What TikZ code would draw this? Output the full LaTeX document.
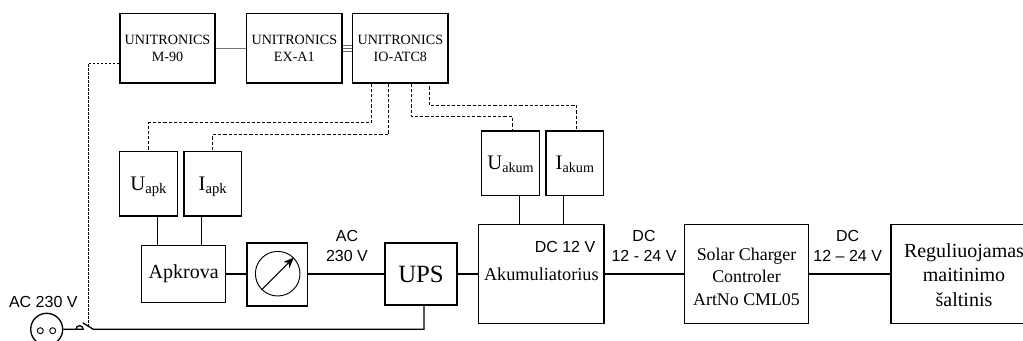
\documentclass[tikz,border=0pt]{standalone}
\usepackage{fontspec}
\setmainfont{Liberation Serif}
\setsansfont{Liberation Sans}
\usepackage{xcolor}
\usepackage{pgf,tikz}
\usetikzlibrary{arrows.meta}
\newcommand{\fsz}[2]{\fontsize{#1}{#2}\selectfont}
\newcommand{\subtxt}[4]{\rule{0pt}{#4pt}\fsz{15.5}{15.5}#1\raisebox{-2.2pt}{\fsz{#3}{#3}#2}}
\tikzset{
  blk/.style={draw, line width=1pt, inner sep=0pt, align=center},
  lbl/.style={inner sep=0pt, align=center, font=\sffamily\fsz{12}{15}},
  link/.style={line width=1pt},
  sig/.style={line width=0.7pt, dash pattern=on 2.4pt off 1.5pt},
  bus/.style={line width=0.5pt, black!60}
}
\begin{document}
\begin{tikzpicture}[x=0.75pt, y=-0.75pt]
	\def\u{0.75pt}
	\clip (0,0) rectangle (1023,341);
	\useasboundingbox (0,0) rectangle (1023,341);

	% valdikliai
	\node[blk, minimum width=95*\u, minimum height=69.3*\u, font=\fsz{10.6}{12.2}] (m90) at (167.5,48.35) {UNITRONICS\\M-90};
	\node[blk, minimum width=95.3*\u, minimum height=69.3*\u, font=\fsz{10.6}{12.2}] (exa) at (294.35,48.35) {UNITRONICS\\EX-A1};
	\node[blk, minimum width=95.3*\u, minimum height=69.3*\u, font=\fsz{10.6}{12.2}] (io) at (400.35,48.35) {UNITRONICS\\IO-ATC8};

	% jutikliai
	\node[blk, minimum width=57.6*\u, minimum height=64.7*\u] (uapk) at (148.5,183.65) {\subtxt{U}{apk}{11}{15}};
	\node[blk, minimum width=57.3*\u, minimum height=64.7*\u] (iapk) at (212.65,183.65) {\subtxt{I}{apk}{11}{15}};
	\node[blk, minimum width=57.6*\u, minimum height=64.7*\u] (uakum) at (510.5,163.35) {\subtxt{U}{akum}{10.6}{12}};
	\node[blk, minimum width=57.7*\u, minimum height=64.7*\u] (iakum) at (574.85,163.35) {\subtxt{I}{akum}{10.6}{12}};

	% galios grandine
	\node[blk, minimum width=84*\u, minimum height=57.4*\u, font=\fsz{15}{18}] (apkrova) at (183.7,274) {Apkrova};
	\node[blk, minimum width=60.7*\u, minimum height=63*\u] (meter) at (277.35,274.5) {};
	\node[circle, draw, line width=0.7pt, inner sep=0pt, minimum size=44.6*\u] (gauge) at (277.7,273.7) {};
	\node[blk, minimum width=72*\u, minimum height=62*\u, font=\fsz{18.6}{18}] (ups) at (421,274) {UPS};
	\node[blk, minimum width=125.3*\u, minimum height=99*\u, font=\fsz{13.7}{18}] (akum) at (541.35,273.8) {Akumuliatorius};
	\node[blk, minimum width=123.6*\u, minimum height=99.4*\u, font=\fsz{13.4}{17}] (solar) at (746.5,274) {\rule{0pt}{13.4pt}Solar Charger\\Controler\\ArtNo CML05};
	\node[blk, minimum width=146*\u, minimum height=99.4*\u, font=\fsz{15}{18.2}] (reg) at (964,274) {\rule{0pt}{11.8pt}Reguliuojamas\\maitinimo\\šaltinis};

	% lizdas
	\node[circle, draw, line width=1pt, inner sep=0pt, minimum size=32*\u] (socket) at (46.7,329.3) {};
	\node[circle, draw, line width=0.7pt, inner sep=0pt, minimum size=6*\u] (pinL) at (40.3,330.7) {};
	\node[circle, draw, line width=0.7pt, inner sep=0pt, minimum size=6*\u] (pinR) at (52.7,330.7) {};

	% uzrasai
	\node[lbl] (acIn) at (43.3,302.3) {AC 230 V};
	\node[lbl] (acUps) at (347,245.7) {AC\\230 V};
	\node[lbl] (dcAkum) at (565,247) {DC 12 V};
	\node[lbl] (dcOne) at (644,245.7) {DC\\12 - 24 V};
	\node[lbl] (dcTwo) at (847.7,245.5) {DC\\12 – 24 V};

	% rodykle
	\draw[line width=0.7pt, -{Stealth[length=8pt,width=6.5pt]}] (gauge.-135) -- (gauge.45);

	% magistrales
	\draw[line width=1pt, black!55] (m90) -- (exa);
	\draw[bus] ([yshift=2.5pt]exa.east) -- ([yshift=2.5pt]io.west);
	\draw[bus] (exa.east) -- (io.west);
	\draw[bus] ([yshift=-2.5pt]exa.east) -- ([yshift=-2.5pt]io.west);

	% signalai
	\draw[sig] ([xshift=-21.5pt]io.south) -- ++(0,39.3) -| (uapk.north);
	\draw[sig] ([xshift=-8.7pt]io.south) -- ++(0,51) -| (iapk.north);
	\draw[sig] ([xshift=8.7pt]io.south) -- ++(0,33.3) -| ([xshift=1.6pt]uakum.north);
	\draw[sig] ([xshift=21.7pt,yshift=-2pt]io.south) -- ++(0,19) -| ([xshift=1.4pt]iakum.north);

	% jungtys
	\draw[link] ([xshift=6.6pt]uapk.south) -- ([xshift=6.6pt]uapk.south |- apkrova.north);
	\draw[link] ([xshift=-8.5pt]iapk.south) -- ([xshift=-8.5pt]iapk.south |- apkrova.north);
	\draw[link] ([xshift=6.6pt]uakum.south) -- ([xshift=6.6pt]uakum.south |- akum.north);
	\draw[link] ([xshift=-8.6pt]iakum.south) -- ([xshift=-8.6pt]iakum.south |- akum.north);
	\draw[link] (apkrova.east) -- (apkrova.east -| meter.west);
	\draw[link] (ups.west -| meter.east) -- (ups.west);
	\draw[link] (ups.east) -- (ups.east -| akum.west);
	\draw[link] (solar.west -| akum.east) -- (solar.west);
	\draw[link] (solar.east) -- (reg.west);

	% jungiklis
	\coordinate (swL) at (82.7,322.7);
	\coordinate (swR) at (93.3,329.3);
	\coordinate (swMid) at (88,326);
	\coordinate (bumpL) at (76,329.3);
	\draw[link] ([xshift=2.25pt]ups.south) |- (swR) -- (swL);
	\draw[link] (socket.east) -- (bumpL) arc[start angle=180, end angle=360, radius=3.6] -- cycle;
	\draw[line width=0.7pt, dash pattern=on 1.8pt off 1.2pt] ([yshift=-11.5pt]m90.west) -| (swMid);
\end{tikzpicture}
\end{document}
